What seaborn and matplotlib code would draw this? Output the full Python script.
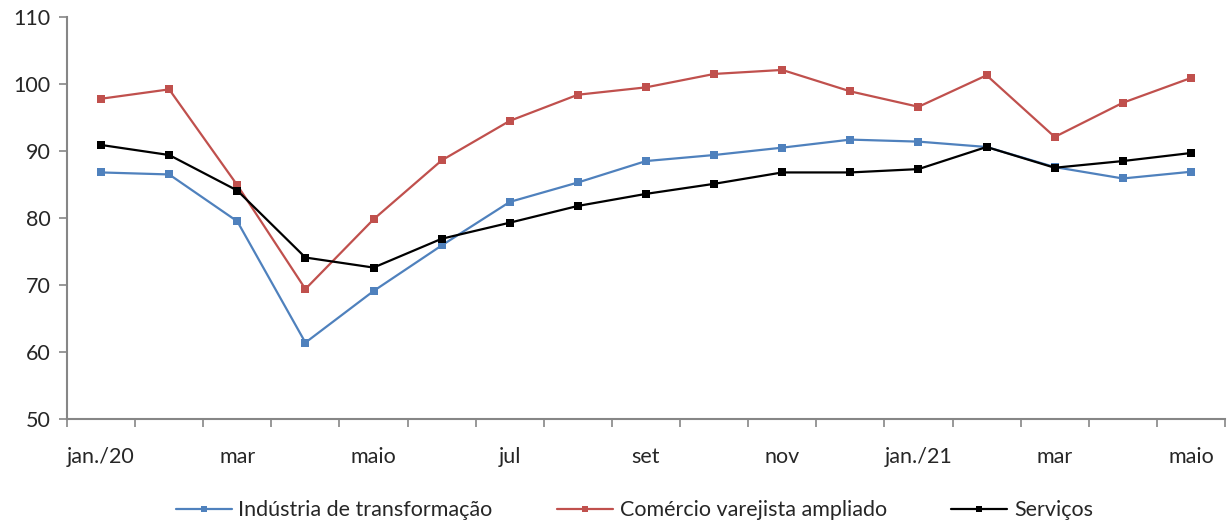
import matplotlib
matplotlib.use("Agg")
import matplotlib.pyplot as plt
import seaborn as sns
import pandas as pd
import numpy as np

months = ["jan./20", "fev", "mar", "abr", "maio", "jun", "jul", "ago", "set",
          "out", "nov", "dez", "jan./21", "fev", "mar", "abr", "maio"]
industria = [86.8, 86.5, 79.5, 61.4, 69.1, 75.9, 82.4, 85.3, 88.5, 89.4, 90.5,
             91.7, 91.4, 90.6, 87.6, 85.9, 86.9]
comercio = [97.8, 99.2, 84.9, 69.4, 79.8, 88.6, 94.5, 98.4, 99.5, 101.5, 102.1,
            98.9, 96.6, 101.3, 92.1, 97.2, 100.9]
servicos = [90.9, 89.4, 84.1, 74.1, 72.6, 76.9, 79.3, 81.8, 83.6, 85.1, 86.8,
            86.8, 87.3, 90.6, 87.5, 88.5, 89.7]
series_names = ["Indústria de transformação", "Comércio varejista ampliado", "Serviços"]
colors = ["#4F81BD", "#C0504D", "#000000"]

sns.set_theme(style="white")
plt.rcParams["font.family"] = ["Lato", "DejaVu Sans"]

df = pd.DataFrame({
    "idx": list(range(len(months))) * 3,
    "valor": industria + comercio + servicos,
    "serie": [series_names[0]] * len(months) + [series_names[1]] * len(months) + [series_names[2]] * len(months),
})

fig = plt.figure(figsize=(12.27, 5.23), dpi=100)
ax = fig.add_axes([67 / 1227, 1 - 419 / 523, (1225 - 67) / 1227, (419 - 17) / 523])

sns.lineplot(data=df, x="idx", y="valor", hue="serie", style="serie",
             palette=colors, markers=["s", "s", "s"], dashes=False,
             linewidth=1.6, markersize=6, markeredgewidth=0, ax=ax)

ax.set_xlim(-0.5, len(months) - 0.5)
ax.set_ylim(50, 110)
ax.set_yticks(np.arange(50, 111, 10))
ax.set_xticks(np.arange(-0.5, len(months), 1.0))
ax.set_xticklabels([])
ax.set_xticks(np.arange(0, len(months), 2), minor=True)
ax.set_xticklabels([months[i] for i in range(0, len(months), 2)], minor=True)
ax.tick_params(axis="x", which="major", direction="out", length=6, width=1.2,
               color="#868686", bottom=True)
ax.tick_params(axis="x", which="minor", length=0, pad=20, labelsize=15.5)
ax.tick_params(axis="y", direction="out", length=6, width=1.2, color="#868686",
               left=True, labelsize=15.5, pad=6)
ax.set_xlabel("")
ax.set_ylabel("")
for s in ["top", "right"]:
    ax.spines[s].set_visible(False)
for s in ["left", "bottom"]:
    ax.spines[s].set_color("#868686")
    ax.spines[s].set_linewidth(1.5)

leg = ax.legend(loc="center", bbox_to_anchor=(0.49, -0.227), ncol=3,
                frameon=False, fontsize=15.5, handlelength=2.6, columnspacing=3.0,
                handletextpad=0.3, markerscale=0.8)

fig.savefig("out.png", dpi=100)
